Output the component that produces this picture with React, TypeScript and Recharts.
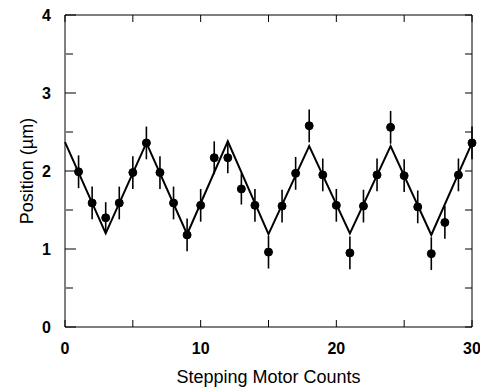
import React from 'react';
import { ComposedChart, Line, XAxis, YAxis, ErrorBar } from 'recharts';

// Measured positions (stepping motor counts 1..30)
const counts = [1,2,3,4,5,6,7,8,9,10,11,12,13,14,15,16,17,18,19,20,21,22,23,24,25,26,27,28,29,30];
const positions = [1.99,1.59,1.40,1.59,1.98,2.36,1.98,1.59,1.18,1.56,2.17,2.17,1.77,1.56,0.96,1.55,1.97,2.58,1.95,1.56,0.95,1.55,1.95,2.56,1.94,1.54,0.94,1.34,1.95,2.36];
const errors = [0.21,0.21,0.2,0.21,0.21,0.21,0.21,0.21,0.21,0.21,0.21,0.2,0.2,0.21,0.21,0.21,0.21,0.21,0.21,0.21,0.21,0.21,0.21,0.21,0.21,0.21,0.21,0.21,0.21,0.21];

// Fitted triangular wave vertices
const fitCounts = [0,3,6,9,12,15,18,21,24,27,30];
const fitValues = [2.37,1.2,2.36,1.19,2.38,1.19,2.32,1.2,2.32,1.18,2.36];

const xTicks = [0,5,10,15,20,25,30];
const yMajorTicks = [0,1,2,3,4];
const yMinorTicks = [0.5,1.5,2.5,3.5];
const yAllTicks = [0,0.5,1,1.5,2,2.5,3,3.5,4];

const table: { x: number; pos?: number; err?: number; fit?: number }[] = [];
for (let i = 0; i <= 30; i++) {
  const row: { x: number; pos?: number; err?: number; fit?: number } = { x: i };
  const k = counts.indexOf(i);
  if (k >= 0) { row.pos = positions[k]; row.err = errors[k]; }
  const f = fitCounts.indexOf(i);
  if (f >= 0) row.fit = fitValues[f];
  table.push(row);
}

const font = '"Liberation Sans", Arial, Helvetica, sans-serif';
const tickStyle = { fontFamily: font, fontSize: 16, fontWeight: 'bold', fill: '#000' } as const;
const blank = () => '';

export default function App() {
  return (
    <ComposedChart
      width={480}
      height={379}
      data={table}
      margin={{ top: 7, right: 16, bottom: 0, left: 0 }}
    >
      {/* labelled axes */}
      <XAxis
        dataKey="x"
        type="number"
        domain={[0, 30]}
        ticks={xTicks}
        interval={0}
        tickFormatter={(v: number) => (v % 10 === 0 ? String(v) : '')}
        tickLine={false}
        tickSize={0}
        tickMargin={16}
        height={60}
        stroke="#000"
        tick={tickStyle}
        label={{ value: 'Stepping Motor Counts', position: 'insideBottom', offset: 4, style: { fontFamily: font, fontSize: 18, fill: '#000' } }}
      />
      <YAxis
        type="number"
        domain={[0, 4]}
        ticks={yMajorTicks}
        interval={0}
        tickLine={false}
        tickSize={0}
        tickMargin={14}
        width={57}
        stroke="#000"
        tick={tickStyle}
        label={{ value: 'Position (\u00b5m)', angle: -90, position: 'insideLeft', offset: 19, style: { fontFamily: font, fontSize: 18, fill: '#000', textAnchor: 'middle' } }}
      />
      {/* inward tick frames */}
      <XAxis
        xAxisId="bm"
        orientation="bottom"
        mirror
        dataKey="x"
        type="number"
        domain={[0, 30]}
        ticks={xTicks}
        interval={0}
        tickFormatter={blank}
        tickSize={7}
        height={2}
        axisLine={false}
        stroke="#000"
      />
      <XAxis
        xAxisId="top"
        orientation="top"
        mirror
        dataKey="x"
        type="number"
        domain={[0, 30]}
        ticks={xTicks}
        interval={0}
        tickFormatter={blank}
        tickSize={7}
        height={2}
        stroke="#000"
      />
      <YAxis
        yAxisId="lM"
        orientation="left"
        mirror
        type="number"
        domain={[0, 4]}
        ticks={yMajorTicks}
        interval={0}
        tickFormatter={blank}
        tickSize={11}
        width={1}
        axisLine={false}
        stroke="#000"
      />
      <YAxis
        yAxisId="lm"
        orientation="left"
        mirror
        type="number"
        domain={[0, 4]}
        ticks={yMinorTicks}
        interval={0}
        tickFormatter={blank}
        tickSize={7}
        width={1}
        axisLine={false}
        stroke="#000"
      />
      <YAxis
        yAxisId="right"
        orientation="right"
        mirror
        type="number"
        domain={[0, 4]}
        ticks={yAllTicks}
        interval={0}
        tickFormatter={blank}
        tickSize={7}
        width={2}
        stroke="#000"
      />
      {/* invisible series that bind the frame axes */}
      <Line xAxisId="bm" yAxisId="lM" dataKey="fit" connectNulls stroke="none" dot={false} activeDot={false} legendType="none" isAnimationActive={false} />
      <Line xAxisId="top" yAxisId="lm" dataKey="fit" connectNulls stroke="none" dot={false} activeDot={false} legendType="none" isAnimationActive={false} />
      <Line xAxisId="top" yAxisId="right" dataKey="fit" connectNulls stroke="none" dot={false} activeDot={false} legendType="none" isAnimationActive={false} />
      {/* fitted curve */}
      <Line
        dataKey="fit"
        type="linear"
        connectNulls
        stroke="#000"
        strokeWidth={2}
        dot={false}
        activeDot={false}
        isAnimationActive={false}
      />
      {/* measured points */}
      <Line
        dataKey="pos"
        type="linear"
        stroke="none"
        dot={{ r: 4, fill: '#000', stroke: '#000', strokeWidth: 1 }}
        activeDot={false}
        isAnimationActive={false}
      >
        <ErrorBar dataKey="err" width={0} stroke="#000" strokeWidth={1.6} direction="y" />
      </Line>
    </ComposedChart>
  );
}
